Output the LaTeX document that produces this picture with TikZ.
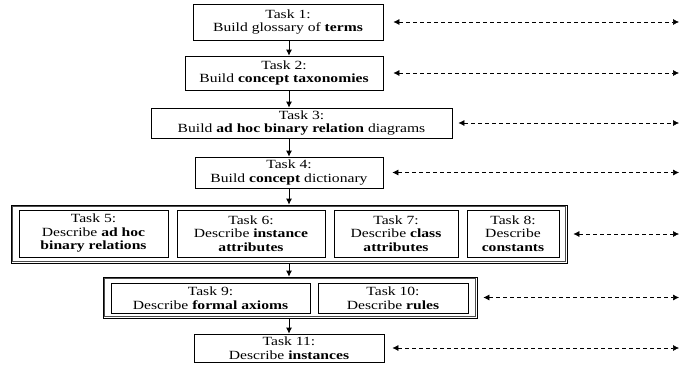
\documentclass[tikz,border=0pt]{standalone}
\usepackage{fontspec}
\setmainfont[FakeStretch=1.25]{Liberation Serif}
\usetikzlibrary{arrows.meta}

\begin{document}
\begin{tikzpicture}[x=1pt, y=-1pt,
		task/.style={draw, line width=0.8pt, align=center, inner sep=0pt, font=\fontsize{12.5}{13.5}\selectfont},
		taskgroup/.style={draw=black, line width=0.8pt, inner sep=0pt},
		flow/.style={-{Latex[length=6pt,width=6pt]}, line width=0.8pt},
		link/.style={{Latex[length=6pt,width=6pt]}-{Latex[length=6pt,width=6pt]}, dash pattern=on 4pt off 3pt, line width=0.6pt}]
		%%%%% START %%%%%
		\useasboundingbox (0, 0) rectangle (679, 367);
		\coordinate (axis) at (289, 0);
		\coordinate (rim) at (679, 0);
		
		\node[task, minimum width=190pt, minimum height=36pt] (t1) at (288, 22) {Task 1:\\Build glossary of \textbf{terms}};
		\node[task, minimum width=198pt, minimum height=34pt] (t2) at (284, 73) {Task 2:\\Build \textbf{concept taxonomies}};
		\node[task, minimum width=301pt, minimum height=30pt] (t3) at (301.5, 123) {Task 3:\\Build \textbf{ad hoc binary relation} diagrams};
		\node[task, minimum width=188pt, minimum height=31pt] (t4) at (289, 172.5) {Task 4:\\Build \textbf{concept} dictionary};
		
		\node[taskgroup, minimum width=556pt, minimum height=58pt] (g58) at (289, 234) {};
		\draw[line width=0.5pt, black!70] ([shift={(2,2)}]g58.north west) rectangle ([shift={(-2,-2)}]g58.south east);
		\node[task, minimum width=149pt, minimum height=47pt] (t5) at (93.5, 233.5) {Task 5:\\Describe \textbf{ad hoc}\\\textbf{binary relations}};
		\node[task, minimum width=148pt, minimum height=47pt] (t6) at (251, 233.5) {Task 6:\\Describe \textbf{instance}\\\textbf{attributes}};
		\node[task, minimum width=124pt, minimum height=47pt] (t7) at (396, 233.5) {Task 7:\\Describe \textbf{class}\\\textbf{attributes}};
		\node[task, minimum width=92pt, minimum height=47pt] (t8) at (513, 233.5) {Task 8:\\Describe\\\textbf{constants}};
		
		\node[taskgroup, minimum width=374pt, minimum height=41pt] (g910) at (290, 297.5) {};
		\draw[line width=0.5pt, black!70] ([shift={(2,2)}]g910.north west) rectangle ([shift={(-2,-2)}]g910.south east);
		\node[task, minimum width=199pt, minimum height=30pt] (t9) at (210.5, 298) {Task 9:\\Describe \textbf{formal axioms}};
		\node[task, minimum width=150pt, minimum height=30pt] (t10) at (393, 298) {Task 10:\\Describe \textbf{rules}};
		
		\node[task, minimum width=190pt, minimum height=28pt] (t11) at (289, 348) {Task 11:\\Describe \textbf{instances}};
		
		% order of the tasks
		\draw[flow] (t1.south -| axis) -- (t2.north -| axis);
		\draw[flow] (t2.south -| axis) -- (t3.north -| axis);
		\draw[flow] (t3.south -| axis) -- (t4.north -| axis);
		\draw[flow] (t4.south -| axis) -- (g58.north -| axis);
		\draw[flow] (g58.south -| axis) -- (g910.north -| axis);
		\draw[flow] (g910.south -| axis) -- (t11.north -| axis);
		
		% links to the right edge
		\draw[link, shorten <=10pt] (t1.east) -- (t1.east -| rim);
		\draw[link, shorten <=10pt] (t2.east) -- (t2.east -| rim);
		\draw[link, shorten <=6pt] (t3.east) -- (t3.east -| rim);
		\draw[link, shorten <=9pt] (t4.east) -- (t4.east -| rim);
		\draw[link, shorten <=6pt] (g58.east) -- (g58.east -| rim);
		\draw[link, shorten <=6pt] (g910.east) -- (g910.east -| rim);
		\draw[link, shorten <=8pt] (t11.east) -- (t11.east -| rim);
		%%%%% END %%%%%
\end{tikzpicture}
\end{document}
